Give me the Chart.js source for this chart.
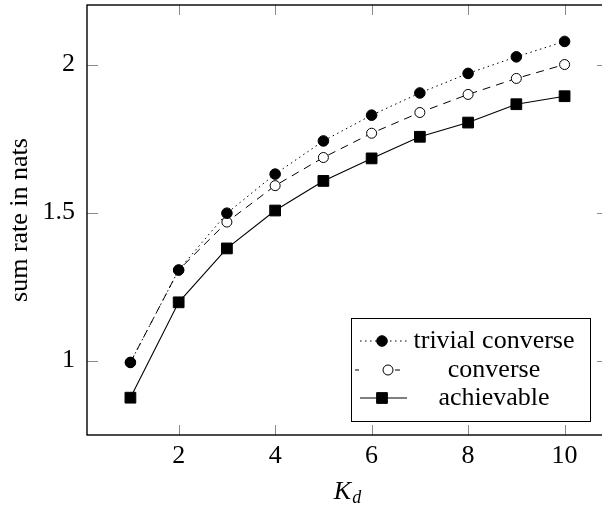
<!DOCTYPE html>
<html>
<head>
<meta charset="utf-8">
<script src="https://cdn.jsdelivr.net/npm/chart.js@4"></script>
<style>
  html, body { margin: 0; padding: 0; background: #fff; overflow: hidden; }
  #wrap { width: 614px; height: 508px; }
</style>
</head>
<body>
<div id="wrap"><canvas id="myChart" width="614" height="508"></canvas></div>
<script>
// K_d values
var kd = [1, 2, 3, 4, 5, 6, 7, 8, 9, 10];
// sum rates
var trivialConverse = [0.994, 1.306, 1.498, 1.630, 1.742, 1.829, 1.904, 1.970, 2.026, 2.078];
var converse = [0.994, 1.306, 1.468, 1.591, 1.686, 1.768, 1.838, 1.899, 1.953, 2.000];
var achievable = [0.875, 1.197, 1.379, 1.507, 1.607, 1.683, 1.756, 1.804, 1.866, 1.893];
var seriesNames = ['trivial converse', 'converse', 'achievable'];
var xTicks = [2, 4, 6, 8, 10];
var yTicks = [1, 1.5, 2];

var serif = "'Liberation Serif', 'DejaVu Serif', serif";

function toPoints(values) {
    return values.map((v, i) => { return { x: kd[i], y: v }; });
}

// pgfplots style ticks pointing inwards on all four sides, plus the frame
var frameTicks = {
    id: 'frameTicks',
    afterDatasetsDraw(chart) {
        var ctx = chart.ctx;
        var a = chart.chartArea;
        var xs = chart.scales.x, ys = chart.scales.y;
        ctx.save();
        ctx.strokeStyle = '#8a8a8a';
        ctx.lineWidth = 1;
        ctx.beginPath();
        xTicks.forEach((v) => {
            var px = Math.round(xs.getPixelForValue(v)) + 0.5;
            ctx.moveTo(px, a.bottom); ctx.lineTo(px, a.bottom - 10);
            ctx.moveTo(px, a.top); ctx.lineTo(px, a.top + 10);
        });
        yTicks.forEach((v) => {
            var py = Math.round(ys.getPixelForValue(v)) + 0.5;
            ctx.moveTo(a.left, py); ctx.lineTo(a.left + 11, py);
            ctx.moveTo(a.right, py); ctx.lineTo(a.right - 11, py);
        });
        ctx.stroke();
        ctx.strokeStyle = '#000';
        ctx.lineWidth = 1.4;
        ctx.strokeRect(a.left, a.top, a.right - a.left, a.bottom - a.top);
        ctx.restore();
    }
};

// x-axis title with subscript
var xTitle = {
    id: 'xTitle',
    afterDraw(chart) {
        var ctx = chart.ctx;
        var cx = 347;
        ctx.save();
        ctx.fillStyle = '#000';
        ctx.textBaseline = 'alphabetic';
        ctx.font = 'italic 26px ' + serif;
        var wK = ctx.measureText('K').width;
        ctx.font = 'italic 18px ' + serif;
        var wd = ctx.measureText('d').width;
        var x0 = cx - (wK + wd) / 2;
        ctx.font = 'italic 26px ' + serif;
        ctx.fillText('K', x0, 499);
        ctx.font = 'italic 18px ' + serif;
        ctx.fillText('d', x0 + wK + 1, 503);
        ctx.restore();
    }
};

// legend box inside the plot, lower right
var boxLegend = {
    id: 'boxLegend',
    afterDraw(chart) {
        var ctx = chart.ctx;
        var left = 351, top = 318, right = 590, bottom = 421;
        var rows = [341, 370, 398];
        var markX = [382, 388, 382];
        ctx.save();
        ctx.fillStyle = '#fff';
        ctx.fillRect(left, top, right - left, bottom - top);
        ctx.strokeStyle = '#000';
        ctx.lineWidth = 1;
        ctx.strokeRect(left + 0.5, top + 0.5, right - left, bottom - top);
        chart.data.datasets.forEach((ds, i) => {
            var y = rows[i];
            var mx = markX[i];
            ctx.save();
            ctx.strokeStyle = ds.borderColor;
            ctx.lineWidth = ds.borderWidth;
            ctx.beginPath();
            if (i === 1) {
                ctx.moveTo(355, y); ctx.lineTo(359, y);
                ctx.moveTo(395, y); ctx.lineTo(400, y);
            } else {
                ctx.setLineDash(ds.borderDash || []);
                ctx.moveTo(360, y); ctx.lineTo(407, y);
            }
            ctx.stroke();
            ctx.restore();
            ctx.fillStyle = ds.pointBackgroundColor;
            ctx.strokeStyle = ds.pointBorderColor;
            ctx.lineWidth = ds.pointBorderWidth;
            ctx.beginPath();
            if (ds.pointStyle === 'rect') {
                var s = ds.pointRadius * Math.SQRT1_2;
                ctx.rect(mx - s, y - s, 2 * s, 2 * s);
            } else {
                ctx.arc(mx, y, ds.pointRadius, 0, Math.PI * 2);
            }
            ctx.fill();
            ctx.stroke();
            ctx.fillStyle = '#000';
            ctx.font = '26px ' + serif;
            ctx.textAlign = 'center';
            ctx.textBaseline = 'middle';
            ctx.fillText(ds.label, 494, y);
        });
        ctx.restore();
    }
};

var ctx = document.getElementById('myChart').getContext('2d');
var myChart = new Chart(ctx, {
    type: 'line',
    data: {
        datasets: [{
            label: seriesNames[0],
            data: toPoints(trivialConverse),
            borderColor: '#000',
            borderWidth: 1,
            borderDash: [1.5, 3.5],
            pointStyle: 'circle',
            pointRadius: 5.3,
            pointBackgroundColor: '#000',
            pointBorderColor: '#000',
            pointBorderWidth: 1,
            fill: false
        }, {
            label: seriesNames[1],
            data: toPoints(converse),
            borderColor: '#000',
            borderWidth: 1,
            borderDash: [8, 6],
            pointStyle: 'circle',
            pointRadius: 5,
            pointBackgroundColor: '#fff',
            pointBorderColor: '#000',
            pointBorderWidth: 1,
            fill: false
        }, {
            label: seriesNames[2],
            data: toPoints(achievable),
            borderColor: '#000',
            borderWidth: 1.1,
            pointStyle: 'rect',
            pointRadius: 7.6,
            pointBackgroundColor: '#000',
            pointBorderColor: '#000',
            pointBorderWidth: 1,
            fill: false
        }]
    },
    options: {
        responsive: false,
        animation: false,
        layout: { autoPadding: false, padding: { top: 5, right: 6, left: 0, bottom: 0 } },
        plugins: {
            legend: { display: false },
            tooltip: { enabled: false }
        },
        scales: {
            x: {
                type: 'linear',
                min: 0.1,
                max: 10.9,
                afterBuildTicks: (scale) => { scale.ticks = xTicks.map((v) => { return { value: v }; }); },
                afterFit: (scale) => {
                    scale.height = 73;
                    scale.paddingLeft = 0; scale.paddingRight = 0;
                    scale.paddingTop = 0; scale.paddingBottom = 0;
                },
                grid: { display: false, drawTicks: false },
                border: { display: false },
                ticks: {
                    color: '#000',
                    font: { family: serif, size: 26 },
                    padding: 6,
                    maxRotation: 0
                }
            },
            y: {
                min: 0.749,
                max: 2.201,
                afterBuildTicks: (scale) => { scale.ticks = yTicks.map((v) => { return { value: v }; }); },
                afterFit: (scale) => {
                    scale.width = 87;
                    scale.paddingLeft = 0; scale.paddingRight = 0;
                    scale.paddingTop = 0; scale.paddingBottom = 0;
                },
                grid: { display: false, drawTicks: false },
                border: { display: false },
                ticks: {
                    color: '#000',
                    font: { family: serif, size: 26 },
                    padding: 12,
                    callback: (v) => { return String(v); }
                },
                title: {
                    display: true,
                    text: 'sum rate in nats',
                    color: '#000',
                    font: { family: serif, size: 26 },
                    padding: { top: 5, bottom: 0 }
                }
            }
        }
    },
    plugins: [frameTicks, boxLegend, xTitle]
});
</script>
</body>
</html>
